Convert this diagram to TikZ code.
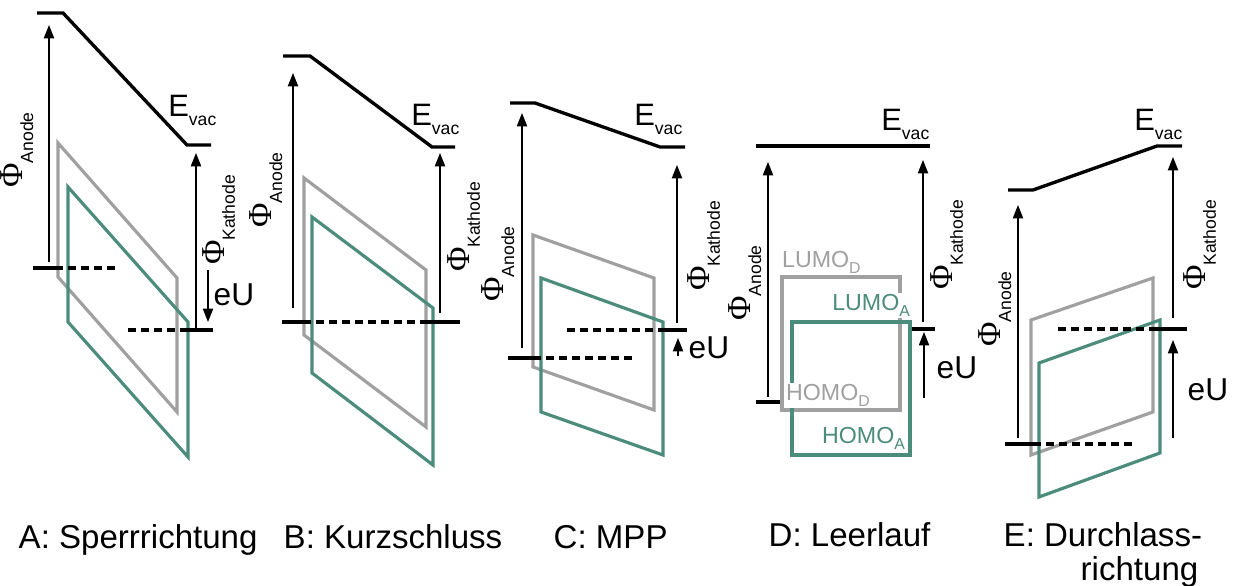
\documentclass[tikz,border=0pt]{standalone}
\usepackage{fontspec}
\setmainfont{Liberation Sans}
\newfontfamily\phifont{Liberation Serif}
\usetikzlibrary{arrows.meta}

\definecolor{donor}{RGB}{160,160,160}
\definecolor{acceptor}{RGB}{76,140,124}

\newcommand\lowidx[1]{\raisebox{-0.55ex}{\fontsize{5}{6}\selectfont #1}}
\newcommand\workfn[1]{{\fontsize{9.5}{10}\phifont Φ}\lowidx{#1}}
\newcommand\evac{E\lowidx{vac}}
\newcommand\orbital[2]{#1\raisebox{-0.5ex}{\fontsize{4.5}{5}\selectfont #2}}

\begin{document}
\begin{tikzpicture}[x=0.01cm,y=-0.01cm,line join=miter]
\tikzstyle{vac}=[line width=0.95pt]
\tikzstyle{fermi}=[line width=0.95pt]
\tikzstyle{fermidash}=[line width=0.95pt,dash pattern=on 2.3pt off 1.4pt]
\tikzstyle{dband}=[draw=donor,line width=0.9pt]
\tikzstyle{aband}=[draw=acceptor,line width=0.9pt]
\tikzstyle{wf}=[line width=0.4pt,-{Triangle[length=3.8pt,width=2.9pt]}]
\tikzstyle{anodelbl}=[rotate=90,anchor=south,inner sep=0pt]
\tikzstyle{kathodelbl}=[rotate=90,anchor=north,inner sep=0pt]
\tikzstyle{vaclbl}=[anchor=south east,inner sep=0pt,font=\fontsize{8.8}{10}\selectfont]
\tikzstyle{eulbl}=[anchor=west,inner sep=0pt,font=\fontsize{9}{10}\selectfont]
\tikzstyle{orblbl}=[inner sep=0.4pt,fill=white,font=\fontsize{6.6}{8}\selectfont]
\tikzstyle{caption}=[inner sep=0pt,font=\fontsize{9.4}{11}\selectfont]
\useasboundingbox (0,0) rectangle (1233,586);

% A: Sperrrichtung
\draw[dband] (58,143) -- (177,278) -- (177,412) -- (58,277) -- cycle;
\draw[aband] (68,187) -- (188,322) -- (188,457) -- (68,322) -- cycle;
\draw[vac] (37,13) -- (63,13) -- (187,145) -- (211,145);
\draw[fermi] (33,268) -- (55,268);
\draw[fermidash] (55,268) -- (118,268);
\draw[fermidash] (128,330) -- (182,330);
\draw[fermi] (182,330) -- (213,330);
\draw[wf] (49,262) -- (49,25);
\draw[wf] (196,330) -- (196,153);
\draw[wf] (208,270) -- (208,322);
\node[anodelbl] (phiAnA) at (34,150) {\workfn{Anode}};
\node[kathodelbl] (phiKaA) at (202,220) {\workfn{Kathode}};
\node[vaclbl] (vacA) at (217,126) {\evac};
\node[eulbl] (euA) at (213,295) {eU};

% B: Kurzschluss
\draw[dband] (304,178) -- (426,270) -- (426,427) -- (304,335) -- cycle;
\draw[aband] (312,217) -- (433,308) -- (433,465) -- (312,373) -- cycle;
\draw[vac] (283,56) -- (310,56) -- (432,147) -- (455,147);
\draw[fermi] (282,322) -- (303,322);
\draw[fermidash] (303,322) -- (427,322);
\draw[fermi] (427,322) -- (460,322);
\draw[wf] (293,308) -- (293,73);
\draw[wf] (440,313) -- (440,153);
\node[anodelbl] (phiAnB) at (283,190) {\workfn{Anode}};
\node[kathodelbl] (phiKaB) at (447,227) {\workfn{Kathode}};
\node[vaclbl] (vacB) at (460,135) {\evac};

% C: MPP
\draw[dband] (533,235) -- (654,278) -- (654,410) -- (533,367) -- cycle;
\draw[aband] (541,278) -- (663,322) -- (663,455) -- (541,412) -- cycle;
\draw[vac] (510,103) -- (535,103) -- (660,147) -- (685,147);
\draw[fermi] (508,358) -- (533,358);
\draw[fermidash] (533,358) -- (632,358);
\draw[fermidash] (567,330) -- (660,330);
\draw[fermi] (660,330) -- (687,330);
\draw[wf] (522,348) -- (522,113);
\draw[wf] (677,323) -- (677,165);
\draw[wf] (678,356) -- (678,338);
\node[anodelbl] (phiAnC) at (515,264) {\workfn{Anode}};
\node[kathodelbl] (phiKaC) at (687,246) {\workfn{Kathode}};
\node[vaclbl] (vacC) at (683,135) {\evac};
\node[eulbl] (euC) at (688,348) {eU};

% D: Leerlauf
\draw[dband] (782,277) rectangle (900,410);
\draw[aband] (792,322) rectangle (910,455);
\draw[vac] (756,146) -- (930,146);
\draw[fermi] (756,402) -- (780,402);
\draw[fermi] (912,329) -- (935,329);
\draw[wf] (768,397) -- (768,162);
\draw[wf] (923,322) -- (923,160);
\draw[wf] (924,398) -- (924,332);
\node[anodelbl] (phiAnD) at (762,283) {\workfn{Anode}};
\node[kathodelbl] (phiKaD) at (930,245) {\workfn{Kathode}};
\node[vaclbl] (vacD) at (930,140) {\evac};
\node[eulbl] (euD) at (936,368) {eU};
\node[orblbl,anchor=south west,text=donor] (lumoD) at (780,276) {\orbital{LUMO}{D}};
\node[orblbl,anchor=south east,text=acceptor] (lumoA) at (912,319) {\orbital{LUMO}{A}};
\node[orblbl,anchor=south west,text=donor] (homoD) at (784,408.5) {\orbital{HOMO}{D}};
\node[orblbl,anchor=south east,text=acceptor] (homoA) at (907,452) {\orbital{HOMO}{A}};

% E: Durchlassrichtung
\draw[dband] (1031,320) -- (1153,278) -- (1153,412) -- (1031,455) -- cycle;
\draw[aband] (1039,363) -- (1160,320) -- (1160,453) -- (1039,497) -- cycle;
\draw[vac] (1008,190) -- (1033,190) -- (1157,146) -- (1182,146);
\draw[fermi] (1005,444) -- (1033,444);
\draw[fermidash] (1033,444) -- (1133,444);
\draw[fermidash] (1058,329) -- (1150,329);
\draw[fermi] (1150,329) -- (1187,329);
\draw[wf] (1018,438) -- (1018,205);
\draw[wf] (1173,318) -- (1173,157);
\draw[wf] (1173,438) -- (1173,340);
\node[anodelbl] (phiAnE) at (1012,309) {\workfn{Anode}};
\node[kathodelbl] (phiKaE) at (1183,245) {\workfn{Kathode}};
\node[vaclbl] (vacE) at (1183,140) {\evac};
\node[eulbl] (euE) at (1187,390) {eU};

\node[caption,anchor=base west] (capA) at (18,549) {A: Sperrrichtung};
\node[caption,anchor=base west] (capB) at (283,549) {B: Kurzschluss};
\node[caption,anchor=base west] (capC) at (553,549) {C: MPP};
\node[caption,anchor=base west] (capD) at (768,547) {D: Leerlauf};
\node[caption,anchor=base west] (capE) at (1003,547) {E: Durchlass-};
\node[caption,anchor=base east] (capE2) at (1199,581) {richtung};
\end{tikzpicture}
\end{document}
